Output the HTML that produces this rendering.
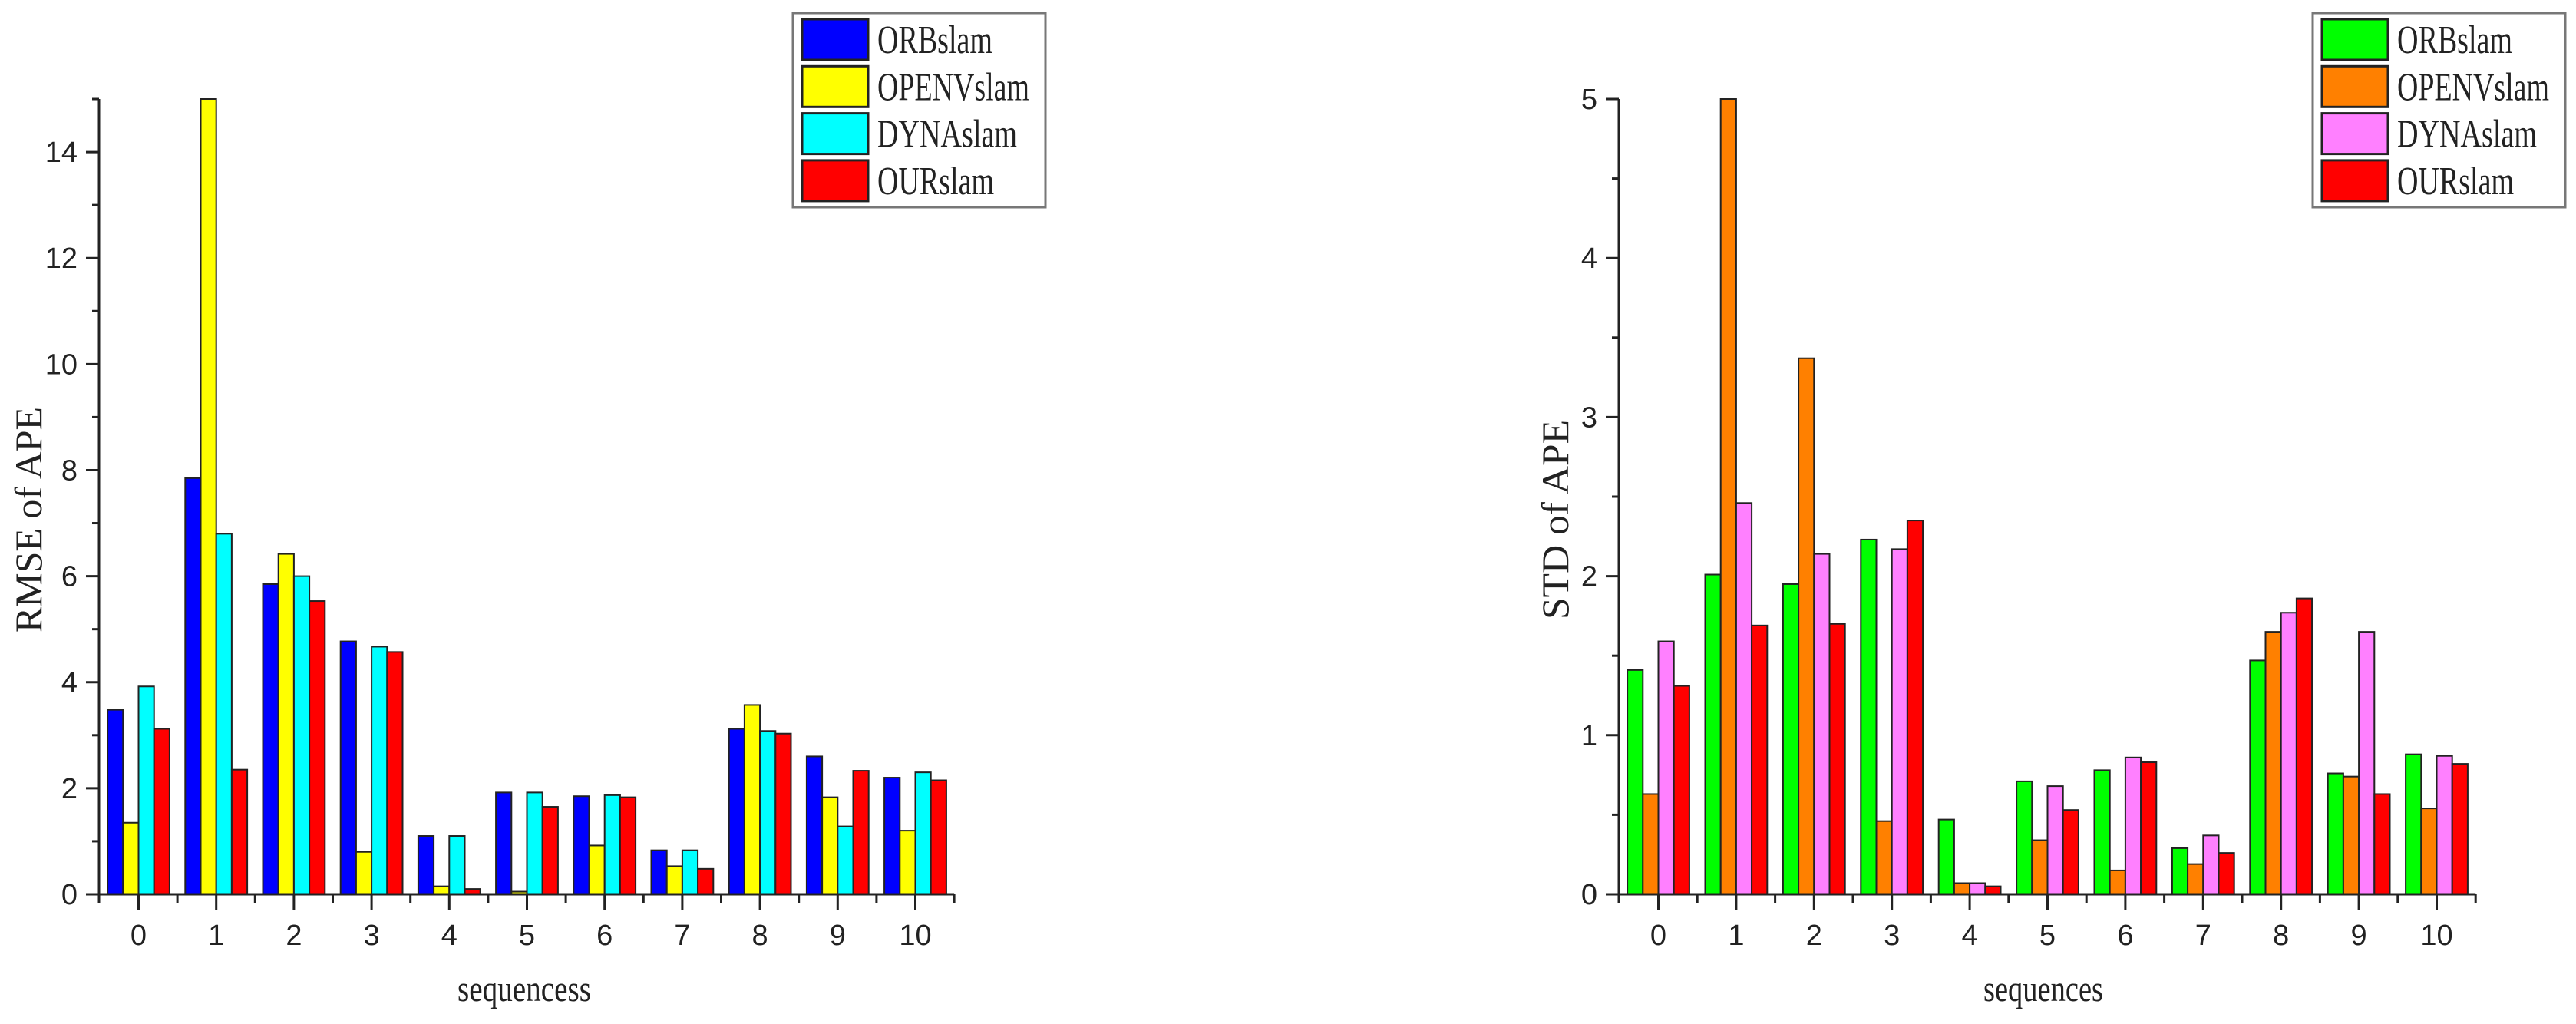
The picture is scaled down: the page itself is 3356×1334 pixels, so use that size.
<!DOCTYPE html>
<html><head><meta charset="utf-8"><style>
html,body{margin:0;padding:0;background:#fff;}
svg{display:block;}
</style></head><body>
<svg id="chart" width="3356" height="1334" viewBox="0 0 3356 1334" xmlns="http://www.w3.org/2000/svg">
<rect width="3356" height="1334" fill="#fff"/>
<g id="left"></g>
<g id="right"></g>
</svg>
<script>
const categories = ["0","1","2","3","4","5","6","7","8","9","10"];
const seriesNames = ["ORBslam","OPENVslam","DYNAslam","OURslam"];
// RMSE of APE
const rmseORB   = [3.48, 7.85, 5.85, 4.77, 1.10, 1.92, 1.85, 0.83, 3.12, 2.60, 2.20];
const rmseOPENV = [1.35, 15.5, 6.42, 0.80, 0.15, 0.05, 0.92, 0.53, 3.57, 1.83, 1.20];
const rmseDYNA  = [3.92, 6.80, 6.00, 4.67, 1.10, 1.92, 1.87, 0.83, 3.08, 1.28, 2.30];
const rmseOUR   = [3.12, 2.35, 5.53, 4.57, 0.10, 1.65, 1.83, 0.48, 3.03, 2.33, 2.15];
const rmseTicks = [0, 2, 4, 6, 8, 10, 12, 14];
// STD of APE
const stdORB   = [1.41, 2.01, 1.95, 2.23, 0.47, 0.71, 0.78, 0.29, 1.47, 0.76, 0.88];
const stdOPENV = [0.63, 5.50, 3.37, 0.46, 0.07, 0.34, 0.15, 0.19, 1.65, 0.74, 0.54];
const stdDYNA  = [1.59, 2.46, 2.14, 2.17, 0.07, 0.68, 0.86, 0.37, 1.77, 1.65, 0.87];
const stdOUR   = [1.31, 1.69, 1.70, 2.35, 0.05, 0.53, 0.83, 0.26, 1.86, 0.63, 0.82];
const stdTicks = [0, 1, 2, 3, 4, 5];

const NS = "http://www.w3.org/2000/svg";
function mk(parent, tag, attrs, text) {
  const e = document.createElementNS(NS, tag);
  for (const k in attrs) e.setAttribute(k, attrs[k]);
  if (text !== undefined) e.textContent = text;
  parent.appendChild(e);
  return e;
}

function drawChart(g, cfg) {
  const base = 1165, top = 129;
  const yS = v => base - (Math.min(v, cfg.ymax) / cfg.ymax) * (base - top);
  const xS = i => cfg.cat0 + i * cfg.step;
  const bw = 20.2;
  const axis = cfg.axisX;
  const xEnd = xS(categories.length - 0.5);

  // bars
  cfg.series.forEach((arr, s) => {
    arr.forEach((v, i) => {
      const x = xS(i) - 2 * bw + s * bw;
      const y = yS(v);
      const r = mk(g, "rect", {x: x, y: y, width: bw, height: base - y, fill: cfg.colors[s], stroke: "#222", "stroke-width": 2});
      
      
    });
  });

  // axes
  const ya = mk(g, "line", {x1: axis, y1: top, x2: axis, y2: base + 1, stroke: "#222", "stroke-width": 3});
  
  
  const xa = mk(g, "line", {x1: axis - 17, y1: base, x2: xEnd, y2: base, stroke: "#222", "stroke-width": 3});
  
  

  // y ticks
  const minorStep = cfg.ticks[1] - cfg.ticks[0];
  for (let k = 0; k <= cfg.ymax / (minorStep / 2) + 0.001; k++) {
    const v = k * minorStep / 2;
    const y = yS(v);
    const major = k % 2 === 0;
    mk(g, "line", {x1: axis - (major ? 17 : 9), y1: y, x2: axis, y2: y, stroke: "#222", "stroke-width": 3});
  }
  cfg.ticks.forEach(v => {
    const t = mk(g, "text", {x: axis - 28, y: yS(v) + 13, "text-anchor": "end", "font-family": "Liberation Sans, sans-serif", "font-size": 38, fill: "#222"}, String(v));
    
    
  });

  // x ticks
  categories.forEach((c, i) => {
    const x = xS(i);
    mk(g, "line", {x1: x, y1: base, x2: x, y2: base + 20, stroke: "#222", "stroke-width": 3});
    mk(g, "line", {x1: x + cfg.step / 2, y1: base, x2: x + cfg.step / 2, y2: base + 12, stroke: "#222", "stroke-width": 3});
    const t = mk(g, "text", {x: x, y: 1231, "text-anchor": "middle", "font-family": "Liberation Sans, sans-serif", "font-size": 38, fill: "#222"}, c);
    
    
  });
  mk(g, "line", {x1: axis, y1: base, x2: axis, y2: base + 12, stroke: "#222", "stroke-width": 3});

  // titles
  const yt = mk(g, "text", {x: 0, y: 0, transform: "translate(" + cfg.yTitleX + ",677) rotate(-90)", "text-anchor": "middle", "font-family": "Liberation Serif, serif", "font-size": 50, fill: "#222", textLength: cfg.yTitleLen, lengthAdjust: "spacingAndGlyphs"}, cfg.yTitle);
  
  
  const xt = mk(g, "text", {x: cfg.xTitleX, y: 1304, "text-anchor": "middle", "font-family": "Liberation Serif, serif", "font-size": 48, fill: "#222", textLength: cfg.xTitleLen, lengthAdjust: "spacingAndGlyphs"}, cfg.xTitle);
  
  

  // legend
  const lg = mk(g, "g", {});
  
  
  mk(lg, "rect", {x: cfg.legX, y: 17, width: 329, height: 253, fill: "#fff", stroke: "#777", "stroke-width": 3});
  const lens = [150, 198, 182, 152];
  seriesNames.forEach((n, s) => {
    const ry = 25 + s * 61.3;
    const e = mk(lg, "g", {});
    
    
    mk(e, "rect", {x: cfg.legX + 12, y: ry, width: 86, height: 53, fill: cfg.colors[s], stroke: "#222", "stroke-width": 3});
    mk(e, "text", {x: cfg.legX + 110, y: ry + 44, "font-family": "Liberation Serif, serif", "font-size": 52, fill: "#222", textLength: lens[s], lengthAdjust: "spacingAndGlyphs"}, n);
  });
}

drawChart(document.getElementById("left"), {
  series: [rmseORB, rmseOPENV, rmseDYNA, rmseOUR],
  colors: ["#0000ff", "#ffff00", "#00ffff", "#ff0000"],
  ticks: rmseTicks, ymax: 15,
  axisX: 129, cat0: 180.5, step: 101.2,
  yTitle: "RMSE of APE", yTitleX: 54, yTitleLen: 294,
  xTitle: "sequencess", xTitleX: 683, xTitleLen: 174,
  legX: 1033
});
drawChart(document.getElementById("right"), {
  series: [stdORB, stdOPENV, stdDYNA, stdOUR],
  colors: ["#00ff00", "#ff8000", "#ff80ff", "#ff0000"],
  ticks: stdTicks, ymax: 5,
  axisX: 2109, cat0: 2160.5, step: 101.4,
  yTitle: "STD of APE", yTitleX: 2043, yTitleLen: 260,
  xTitle: "sequences", xTitleX: 2662, xTitleLen: 156,
  legX: 3013
});
</script>
</body></html>
